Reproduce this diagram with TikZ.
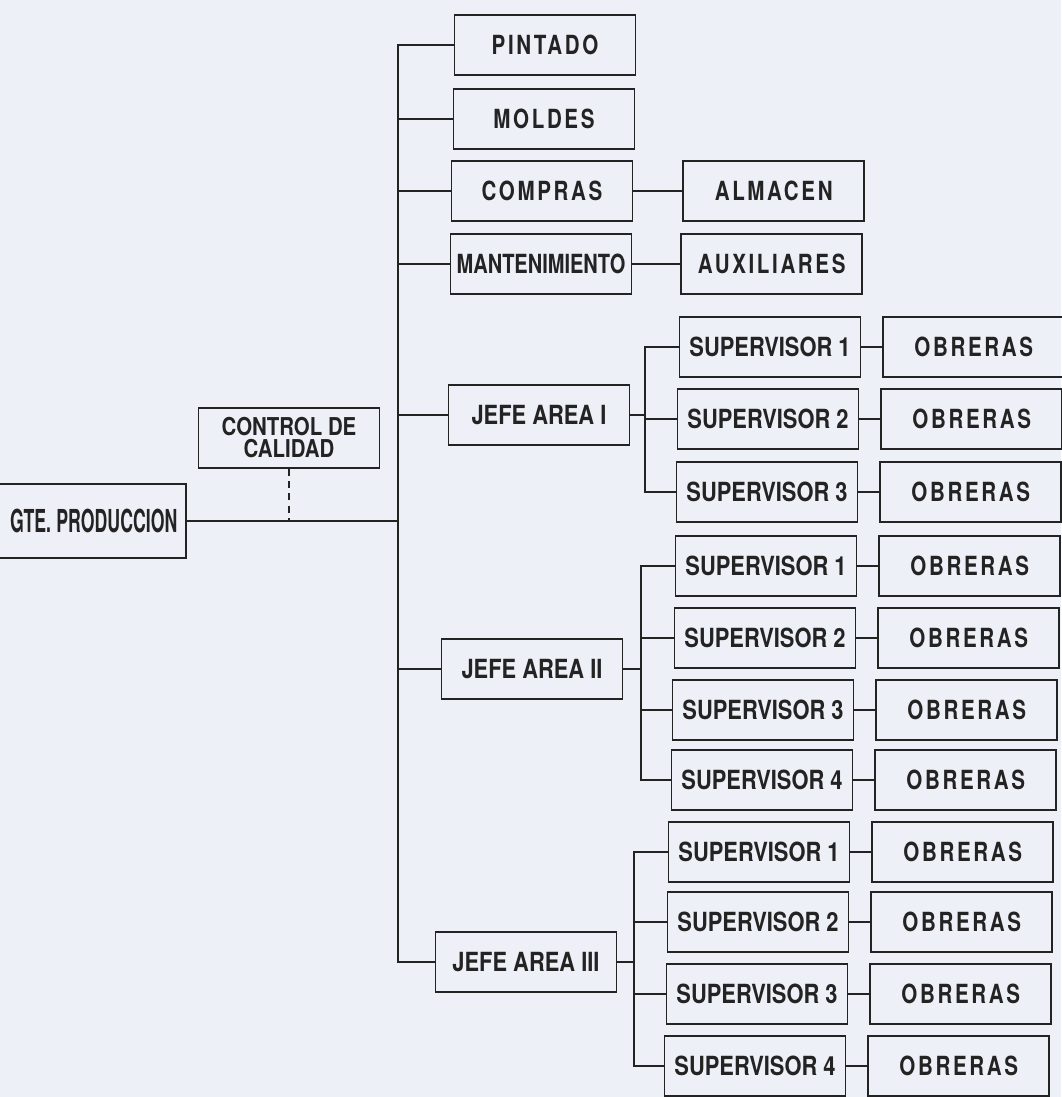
\documentclass[tikz,border=0pt]{standalone}
\usepackage{fontspec}
\setmainfont{TeX Gyre Heros}
\newfontfamily\narrowfont{TeX Gyre Heros}[FakeStretch=0.83]
\newfontfamily\tightfont{TeX Gyre Heros}[FakeStretch=0.76]
\newfontfamily\condfont{TeX Gyre Heros}[FakeStretch=0.56]
\newfontfamily\spacedfont{TeX Gyre Heros}[FakeStretch=0.78,LetterSpace=10]
\usepackage{tikz}
\usetikzlibrary{positioning}
\definecolor{paper}{RGB}{238,240,247}
\definecolor{ink}{RGB}{35,35,35}

\begin{document}
\begin{tikzpicture}[
    x=0.02cm, y=-0.02cm,
    box/.style={rectangle, draw=ink, line width=1pt, minimum width=3.62cm,
        minimum height=1.2cm, inner sep=2pt, align=center, text=ink,
        font=\narrowfont\bfseries\fontsize{15}{13}\selectfont},
    sbox/.style={box, font=\spacedfont\bfseries\fontsize{15}{13}\selectfont},
    tbox/.style={box, font=\tightfont\bfseries\fontsize{15}{13}\selectfont},
    link/.style={draw=ink, line width=1pt},
    node distance=0.42cm
]
\path[use as bounding box, fill=paper] (0,0) rectangle (1061,1097);

% gerencia y control
\node[box, font=\condfont\bfseries\fontsize{18}{18}\selectfont, anchor=east, text width=3.5cm,
    align=right, minimum height=1.48cm, inner sep=5pt] (gte) at (187,521) {GTE.\,PRODUCCION};
\node[box, font=\narrowfont\bfseries\fontsize{14}{12.5}\selectfont] (control) at (289,438) {CONTROL DE\\CALIDAD};
\coordinate (sp) at (398,0);
\draw[link] (gte.east) -- (gte.east -| sp);
\draw[link, dash pattern=on 4pt off 3pt] (control.south) -- (control.south |- gte.east);

% departamentos
\node[sbox] (pintado) at (545,45) {PINTADO};
\node[sbox] (moldes) at (544,119) {MOLDES};
\node[sbox] (compras) at (542,191) {COMPRAS};
\node[tbox] (mant) at (541,264) {MANTENIMIENTO};
\node[sbox, right=0.98cm of compras] (almacen) {ALMACEN};
\node[sbox, right=0.96cm of mant] (aux) {AUXILIARES};
\draw[link] (compras) -- (almacen);
\draw[link] (mant) -- (aux);

\node[box] (jefe1) at (539,415) {JEFE AREA I};
\node[box] (jefe2) at (532,669) {JEFE AREA II};
\node[box] (jefe3) at (526,962) {JEFE AREA III};

\draw[link] (pintado.west) -- (pintado.west -| sp) -- (jefe3.west -| sp) -- (jefe3.west);
\draw[link] (moldes.west) -- (moldes.west -| sp);
\draw[link] (compras.west) -- (compras.west -| sp);
\draw[link] (mant.west) -- (mant.west -| sp);
\draw[link] (jefe1.west) -- (jefe1.west -| sp);
\draw[link] (jefe2.west) -- (jefe2.west -| sp);

% area I
\node[box] (sa1) at (770,347) {SUPERVISOR 1};
\node[box] (sa2) at (768,419) {SUPERVISOR 2};
\node[box] (sa3) at (767,492) {SUPERVISOR 3};
\node[sbox, right=of sa1] (oa1) {OBRERAS};
\node[sbox, right=of sa2] (oa2) {OBRERAS};
\node[sbox, right=of sa3] (oa3) {OBRERAS};
\coordinate (spa) at (645,0);
\draw[link] (jefe1.east) -- (jefe1.east -| spa);
\draw[link] (sa1.west) -- (sa1.west -| spa) -- (sa3.west -| spa) -- (sa3.west);
\draw[link] (sa2.west) -- (sa2.west -| spa);
\draw[link] (sa1) -- (oa1);
\draw[link] (sa2) -- (oa2);
\draw[link] (sa3) -- (oa3);

% area II
\node[box] (sb1) at (766,566) {SUPERVISOR 1};
\node[box] (sb2) at (765,638) {SUPERVISOR 2};
\node[box] (sb3) at (763,710) {SUPERVISOR 3};
\node[box] (sb4) at (762,780) {SUPERVISOR 4};
\node[sbox, right=of sb1] (ob1) {OBRERAS};
\node[sbox, right=of sb2] (ob2) {OBRERAS};
\node[sbox, right=of sb3] (ob3) {OBRERAS};
\node[sbox, right=of sb4] (ob4) {OBRERAS};
\coordinate (spb) at (641,0);
\draw[link] (jefe2.east) -- (jefe2.east -| spb);
\draw[link] (sb1.west) -- (sb1.west -| spb) -- (sb4.west -| spb) -- (sb4.west);
\draw[link] (sb2.west) -- (sb2.west -| spb);
\draw[link] (sb3.west) -- (sb3.west -| spb);
\draw[link] (sb1) -- (ob1);
\draw[link] (sb2) -- (ob2);
\draw[link] (sb3) -- (ob3);
\draw[link] (sb4) -- (ob4);

% area III
\node[box] (sc1) at (759,852) {SUPERVISOR 1};
\node[box] (sc2) at (758,922) {SUPERVISOR 2};
\node[box] (sc3) at (757,994) {SUPERVISOR 3};
\node[box] (sc4) at (755,1066) {SUPERVISOR 4};
\node[sbox, right=of sc1] (oc1) {OBRERAS};
\node[sbox, right=of sc2] (oc2) {OBRERAS};
\node[sbox, right=of sc3] (oc3) {OBRERAS};
\node[sbox, right=of sc4] (oc4) {OBRERAS};
\coordinate (spc) at (634,0);
\draw[link] (jefe3.east) -- (jefe3.east -| spc);
\draw[link] (sc1.west) -- (sc1.west -| spc) -- (sc4.west -| spc) -- (sc4.west);
\draw[link] (sc2.west) -- (sc2.west -| spc);
\draw[link] (sc3.west) -- (sc3.west -| spc);
\draw[link] (sc1) -- (oc1);
\draw[link] (sc2) -- (oc2);
\draw[link] (sc3) -- (oc3);
\draw[link] (sc4) -- (oc4);
\end{tikzpicture}
\end{document}
